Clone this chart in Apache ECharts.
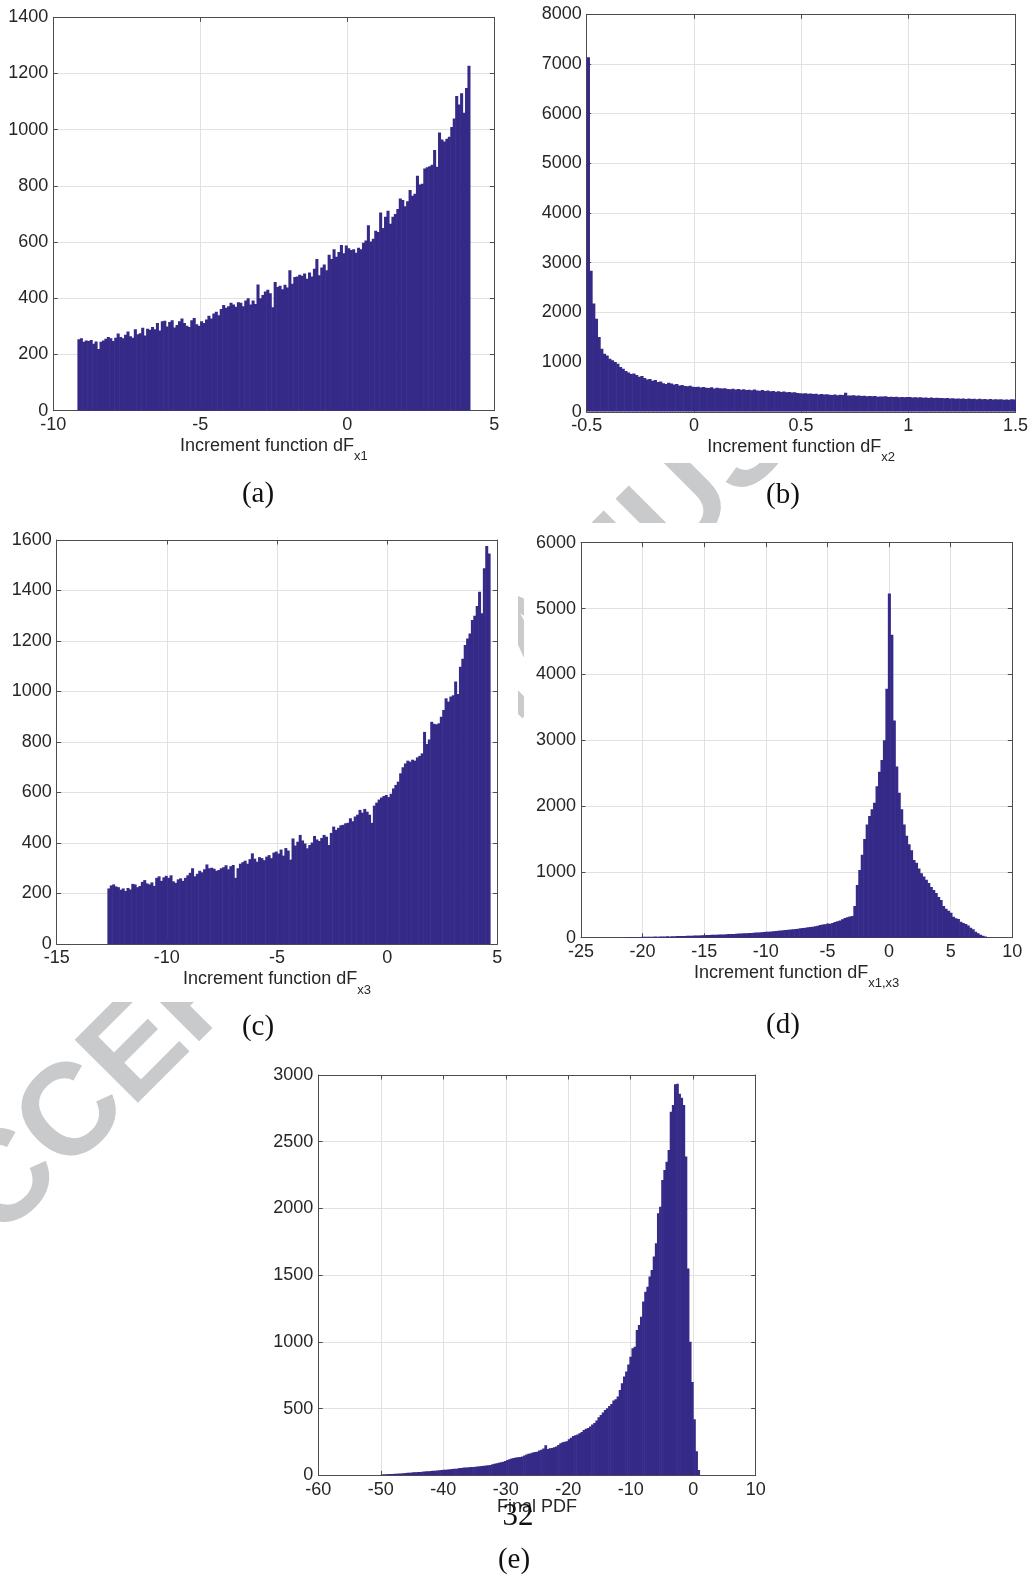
<!DOCTYPE html>
<html><head><meta charset="utf-8">
<script src="https://cdn.jsdelivr.net/npm/echarts@6/dist/echarts.min.js"></script>
<style>html,body{margin:0;padding:0;background:#fff}#c{width:1031px;height:1580px}</style>
</head><body><div id="c"></div>
<script>
// ---------- DATA (histogram counts) ----------
// (a) Increment function dF_x1
const aRange = [-9.18, 4.17];
const aCounts = [
 254,258,245,250,248,252,238,246,220,245,
 250,256,262,258,248,260,275,262,258,270,
 282,265,260,290,272,276,295,268,292,288,
 298,290,312,285,318,320,300,316,322,296,
 305,318,328,312,302,298,322,330,308,302,
 318,312,325,338,328,346,352,340,362,376,
 366,372,384,378,370,386,384,372,392,400,
 378,392,380,449,400,412,424,430,418,368,
 458,440,445,432,448,438,500,452,476,478,
 484,480,488,470,492,478,505,540,482,510,
 520,500,555,540,575,548,565,590,560,588,
 578,572,575,562,580,575,598,606,660,602,
 612,640,636,705,650,690,712,665,690,700,
 718,755,750,728,745,785,765,772,836,805,
 808,862,866,870,875,928,868,990,965,958,
 968,975,1010,1040,1120,1090,1130,1060,1148,1228];
const aXAxis = [-10, 5, 5];
const aYAxis = [0, 1400, 200];

// (b) Increment function dF_x2
const bRange = [-0.5, 1.5];
const bCounts = [
 7135,2840,2180,1875,1505,1270,1170,1135,1070,1035,
 1000,968,900,868,820,790,760,772,740,705,
 718,680,650,662,625,640,600,612,575,560,
 585,570,548,560,530,538,520,512,525,505,
 498,505,490,500,485,478,492,470,482,476,
 468,472,460,455,465,450,458,446,452,440,
 445,436,448,430,425,438,420,428,415,418,
 405,412,398,408,395,400,388,392,380,372,
 368,375,362,370,358,365,350,356,348,352,
 345,340,350,335,342,338,385,330,326,334,
 325,330,318,322,315,320,312,318,305,310,
 308,312,300,305,298,302,295,300,292,296,
 300,290,295,286,292,282,288,280,286,278,
 284,276,280,272,278,268,275,265,270,262,
 268,260,266,258,264,255,262,252,258,250,
 256,248,254,246,252,244,250,242,255,250];
const bXAxis = [-0.5, 1.5, 0.5];
const bYAxis = [0, 8000, 1000];

// (c) Increment function dF_x3
const cRange = [-12.70, 4.67];
const cCounts = [
 220,232,236,228,225,215,220,210,222,216,
 238,236,225,230,246,253,240,236,244,230,
 262,268,250,264,270,262,272,248,242,256,
 260,250,262,272,282,300,268,278,290,284,
 296,315,300,302,298,290,293,300,304,312,
 296,308,313,262,300,318,324,330,318,336,
 359,338,326,344,340,332,346,352,340,362,
 366,358,374,350,380,370,334,418,390,405,
 432,410,398,379,392,402,428,414,408,420,
 432,425,392,440,465,452,460,470,472,478,
 480,498,486,505,512,531,520,535,524,512,
 480,548,560,572,580,586,590,582,595,616,
 630,643,676,700,715,726,722,730,726,739,
 745,755,840,792,810,880,872,870,874,900,
 927,973,960,980,985,1040,990,1098,1130,1184,
 1210,1230,1283,1300,1339,1395,1310,1488,1576,1547];
const cXAxis = [-15, 5, 5];
const cYAxis = [0, 1600, 200];

// (d) Increment function dF_x1,x3
const dRange = [-21.5, 8.1];
const dCounts = [
 8,9,10,10,12,11,12,13,14,14,
 15,16,17,16,18,19,20,21,20,22,
 23,24,25,27,26,28,30,31,32,34,
 35,37,38,40,41,43,44,45,47,48,
 50,52,55,56,58,60,63,64,66,68,
 70,73,75,78,80,83,86,89,92,95,
 98,102,105,109,112,116,120,125,128,132,
 136,142,146,150,157,162,168,175,182,192,
 200,205,215,212,225,238,250,262,280,300,
 310,322,330,480,800,1030,1260,1500,1720,1850,
 1950,2050,2300,2520,2700,3000,3780,5230,4600,3300,
 2600,2200,1950,1720,1550,1420,1330,1180,1140,1050,
 980,930,880,830,770,724,680,620,572,480,
 440,410,380,320,295,285,243,225,210,185,
 150,130,91,66,45,30,18,10];
const dXAxis = [-25, 10, 5];
const dYAxis = [0, 6000, 1000];

// (e) Final PDF
const eRange = [-50, 1.0];
const eCounts = [
 6,7,8,9,10,10,11,12,13,14,
 16,17,19,20,21,22,23,24,25,26,
 28,30,31,33,34,35,36,38,40,41,
 42,44,45,47,49,50,52,54,57,58,
 58,60,62,63,65,66,68,70,72,74,
 75,78,82,86,90,94,98,102,108,114,
 120,125,130,134,136,138,140,148,155,162,
 165,170,174,177,185,192,200,225,198,202,
 205,210,215,228,240,248,252,255,270,282,
 295,300,305,315,325,340,348,355,365,380,
 392,410,435,452,470,490,502,520,535,560,
 570,590,640,689,740,777,830,889,952,964,
 1089,1127,1189,1302,1376,1414,1489,1539,1639,1739,
 1963,2013,2213,2288,2350,2438,2725,2775,2930,2935,
 2860,2830,2775,2390,1550,1000,700,420,180,40];
const eXAxis = [-60, 10, 10];
const eYAxis = [0, 3000, 500];

const xTitles = [
 ['Increment function dF', 'x1'],
 ['Increment function dF', 'x2'],
 ['Increment function dF', 'x3'],
 ['Increment function dF', 'x1,x3'],
 ['Final PDF', '']
];
const captions = ['(a)', '(b)', '(c)', '(d)', '(e)'];
const pageNumber = '32';
const watermark = 'ACCEPTED MANUSCRIPT';

// ---------- LAYOUT / STYLE ----------
const FONT = '"Liberation Sans", Arial, Helvetica, sans-serif';
const SERIF = '"Liberation Serif", "DejaVu Serif", serif';
const TXT = '#262626', AXC = '#4d4d4d', GRIDC = '#e1e1e1', BAR = '#352a87';

const panels = [
 {counts: aCounts, range: aRange, xa: aXAxis, ya: aYAxis, grid: {left: 53.3, top: 17.3, width: 441, height: 393.4}},
 {counts: bCounts, range: bRange, xa: bXAxis, ya: bYAxis, grid: {left: 586.7, top: 14.3, width: 429, height: 397.5}},
 {counts: cCounts, range: cRange, xa: cXAxis, ya: cYAxis, grid: {left: 56.7, top: 540, width: 440.6, height: 404}},
 {counts: dCounts, range: dRange, xa: dXAxis, ya: dYAxis, grid: {left: 581, top: 542.7, width: 431.3, height: 395}},
 {counts: eCounts, range: eRange, xa: eXAxis, ya: eYAxis, grid: {left: 318.3, top: 1075, width: 437.4, height: 400.3}}
];
const captionPos = [[258, 494], [783, 495], [258, 1027], [783, 1025], [514, 1560]];

const grids = [], xAxes = [], yAxes = [], series = [];
const plain = v => String(v);

function renderBars(params, api) {
  const a = api.coord([api.value(0), api.value(2)]);
  const b = api.coord([api.value(1), 0]);
  return {type: 'rect', shape: {x: a[0], y: a[1], width: b[0] - a[0] + 0.6, height: b[1] - a[1]},
          style: {fill: BAR}};
}

panels.forEach((p, i) => {
  grids.push(Object.assign({containLabel: false}, p.grid));
  const tick = {show: true, inside: true, length: 4.5, lineStyle: {color: AXC, width: 1}};
  const line = {show: true, onZero: false, lineStyle: {color: AXC, width: 1}};
  const t = xTitles[i];
  const name = t[1] ? '{m|' + t[0] + '}{s|' + t[1] + '}' : '{m|' + t[0] + '}';
  xAxes.push({
    gridIndex: i, type: 'value', position: 'bottom', min: p.xa[0], max: p.xa[1], interval: p.xa[2],
    axisLine: line, axisTick: tick,
    axisLabel: {color: TXT, fontSize: 18, fontFamily: FONT, margin: 5.5, formatter: plain},
    splitLine: {show: true, lineStyle: {color: GRIDC, width: 1}},
    name: name, nameLocation: 'middle', nameGap: t[1] ? 24 : 20.7, nameMoveOverlap: false,
    nameTextStyle: {rich: {
      m: {fontSize: 18, fontFamily: FONT, color: TXT, lineHeight: 22},
      s: {fontSize: 13, fontFamily: FONT, color: TXT, lineHeight: 15, padding: [22, 0, 0, 0]}
    }}
  });
  xAxes.push({
    gridIndex: i, type: 'value', position: 'top', min: p.xa[0], max: p.xa[1], interval: p.xa[2],
    axisLine: line, axisTick: tick, axisLabel: {show: false}, splitLine: {show: false}
  });
  yAxes.push({
    gridIndex: i, type: 'value', position: 'left', min: p.ya[0], max: p.ya[1], interval: p.ya[2],
    axisLine: line, axisTick: tick,
    axisLabel: {color: TXT, fontSize: 18, fontFamily: FONT, margin: 5, formatter: plain},
    splitLine: {show: true, lineStyle: {color: GRIDC, width: 1}}
  });
  yAxes.push({
    gridIndex: i, type: 'value', position: 'right', min: p.ya[0], max: p.ya[1], interval: p.ya[2],
    axisLine: line, axisTick: tick, axisLabel: {show: false}, splitLine: {show: false}
  });
  const w = (p.range[1] - p.range[0]) / p.counts.length;
  const data = p.counts.map((c, k) => [p.range[0] + k * w, p.range[0] + (k + 1) * w, c]);
  series.push({
    type: 'custom', xAxisIndex: 2 * i, yAxisIndex: 2 * i, renderItem: renderBars,
    encode: {x: [0, 1], y: 2}, data: data, clip: true, silent: true, z: 2
  });
});

// graphic: watermark, figure image backgrounds, captions, page number
const graphic = [];
graphic.push({
  type: 'text', x: -92.7, y: 1282.7, rotation: Math.PI / 4, z: -10, silent: true,
  style: {text: watermark, font: 'bold 130px ' + FONT, fill: '#c9cacc',
          align: 'left', verticalAlign: 'middle', textAlign: 'left', textVerticalAlign: 'middle'}
});
[[0, 0, 518, 466], [524, 0, 507, 463], [0, 466, 518, 536], [524, 523, 507, 480], [265, 1050, 510, 470]]
  .forEach(r => graphic.push({type: 'rect', z: -5, silent: true,
    shape: {x: r[0], y: r[1], width: r[2], height: r[3]}, style: {fill: '#ffffff'}}));
captions.forEach((c, i) => graphic.push({
  type: 'text', x: captionPos[i][0], y: captionPos[i][1], z: 10, silent: true,
  style: {text: c, font: '29px ' + SERIF, fill: '#111', align: 'center', verticalAlign: 'middle',
          textAlign: 'center', textVerticalAlign: 'middle'}
}));
graphic.push({
  type: 'text', x: 518, y: 1517, z: 10, silent: true,
  style: {text: pageNumber, font: '31px ' + SERIF, fill: '#111', align: 'center', verticalAlign: 'middle',
          textAlign: 'center', textVerticalAlign: 'middle'}
});

const chart = echarts.init(document.getElementById('c'), null, {renderer: 'canvas'});
chart.setOption({
  animation: false,
  backgroundColor: '#ffffff',
  grid: grids, xAxis: xAxes, yAxis: yAxes, series: series,
  graphic: {elements: graphic}
});
</script></body></html>
